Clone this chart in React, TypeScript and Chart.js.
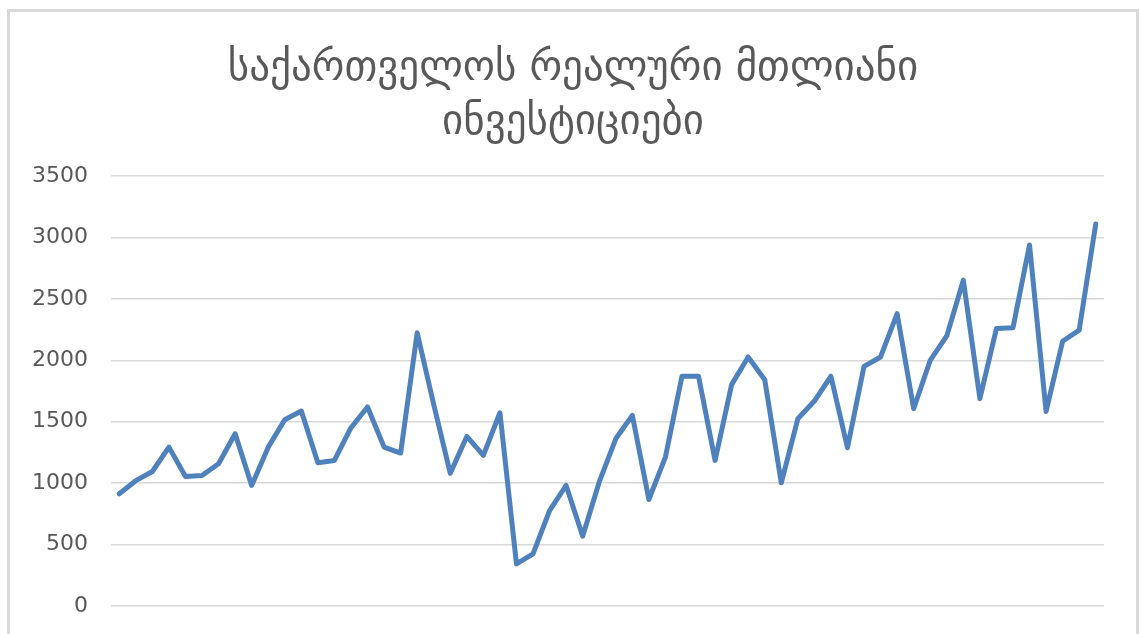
import React, { useEffect, useRef } from "react";
import { Chart, registerables } from "chart.js";

Chart.register(...registerables);

const titleLines = ["საქართველოს რეალური მთლიანი", "ინვესტიციები"];

const years = [2003, 2004, 2005, 2006, 2007, 2008, 2009, 2010, 2011, 2012, 2013, 2014, 2015, 2016, 2017];
const quarters = ["Q1", "Q2", "Q3", "Q4"];

const investments = [
  913, 1020, 1095, 1293, 1054, 1062, 1158, 1402, 981, 1293,
  1516, 1587, 1166, 1185, 1451, 1620, 1293, 1245, 2223, 1640,
  1080, 1380, 1226, 1573, 342, 424, 777, 981, 568, 1010,
  1361, 1552, 867, 1212, 1870, 1870, 1185, 1802, 2027, 1842,
  1003, 1524, 1668, 1870, 1288, 1951, 2027, 2380, 1606, 2000,
  2198, 2652, 1688, 2258, 2264, 2938, 1584, 2155, 2245, 3109,
];

const yMin = 0;
const yMax = 3500;
const yStep = 500;

const labels: string[] = [];
years.forEach((y) => quarters.forEach((q) => labels.push(`${y} ${q}`)));

// Centre the title over the whole framed chart box rather than the padded layout box.
const centerTitlePlugin = {
  id: "centerTitle",
  afterLayout(chart: any) {
    const t = chart.titleBlock;
    if (t) {
      t.left = 7;
      t.right = 1139;
      t.width = t.right - t.left;
    }
  },
};

export default function App() {
  const ref = useRef<HTMLCanvasElement | null>(null);

  useEffect(() => {
    if (!ref.current) return;
    const chart = new Chart(ref.current, {
      type: "line",
      data: {
        labels,
        datasets: [
          {
            label: "investments",
            data: investments,
            borderColor: "#4f81bd",
            backgroundColor: "#4f81bd",
            borderWidth: 5,
            pointRadius: 0,
            tension: 0,
            borderJoinStyle: "round",
            borderCapStyle: "round",
          },
        ],
      },
      plugins: [centerTitlePlugin],
      options: {
        animation: false,
        responsive: false,
        maintainAspectRatio: false,
        layout: { padding: { top: 42, left: 10, right: 35, bottom: 28 } },
        plugins: {
          legend: { display: false },
          tooltip: { enabled: false },
          title: {
            display: true,
            text: titleLines,
            color: "#595959",
            font: { family: "'DejaVu Sans', sans-serif", size: 41, weight: "normal", lineHeight: 54 / 41 },
            padding: { top: 0, bottom: 26 },
          },
        },
        scales: {
          x: {
            display: false,
            offset: true,
            grid: { display: false },
          },
          y: {
            min: yMin,
            max: yMax,
            afterFit: (scale: any) => {
              scale.width = 101;
            },
            ticks: {
              stepSize: yStep,
              color: "#595959",
              padding: 12,
              font: { family: "'DejaVu Sans', sans-serif", size: 22 },
              callback: (v: any) => String(v),
            },
            grid: { color: "#d9d9d9", lineWidth: 1.5, drawTicks: true, tickLength: 11, tickColor: "rgba(0,0,0,0)" },
            border: { display: false },
          },
        },
      },
    });
    return () => chart.destroy();
  }, []);

  return (
    <div style={{ position: "fixed", left: 0, top: 0, width: 1139, height: 634, overflow: "hidden", background: "#fff" }}>
      <div
        style={{
          position: "absolute",
          left: 7,
          top: 9,
          width: 1132,
          height: 640,
          border: "3px solid #d9d9d9",
          boxSizing: "border-box",
        }}
      />
      <canvas
        ref={ref}
        width={1139}
        height={634}
        style={{ position: "absolute", left: 0, top: 0, width: 1139, height: 634 }}
      />
    </div>
  );
}
